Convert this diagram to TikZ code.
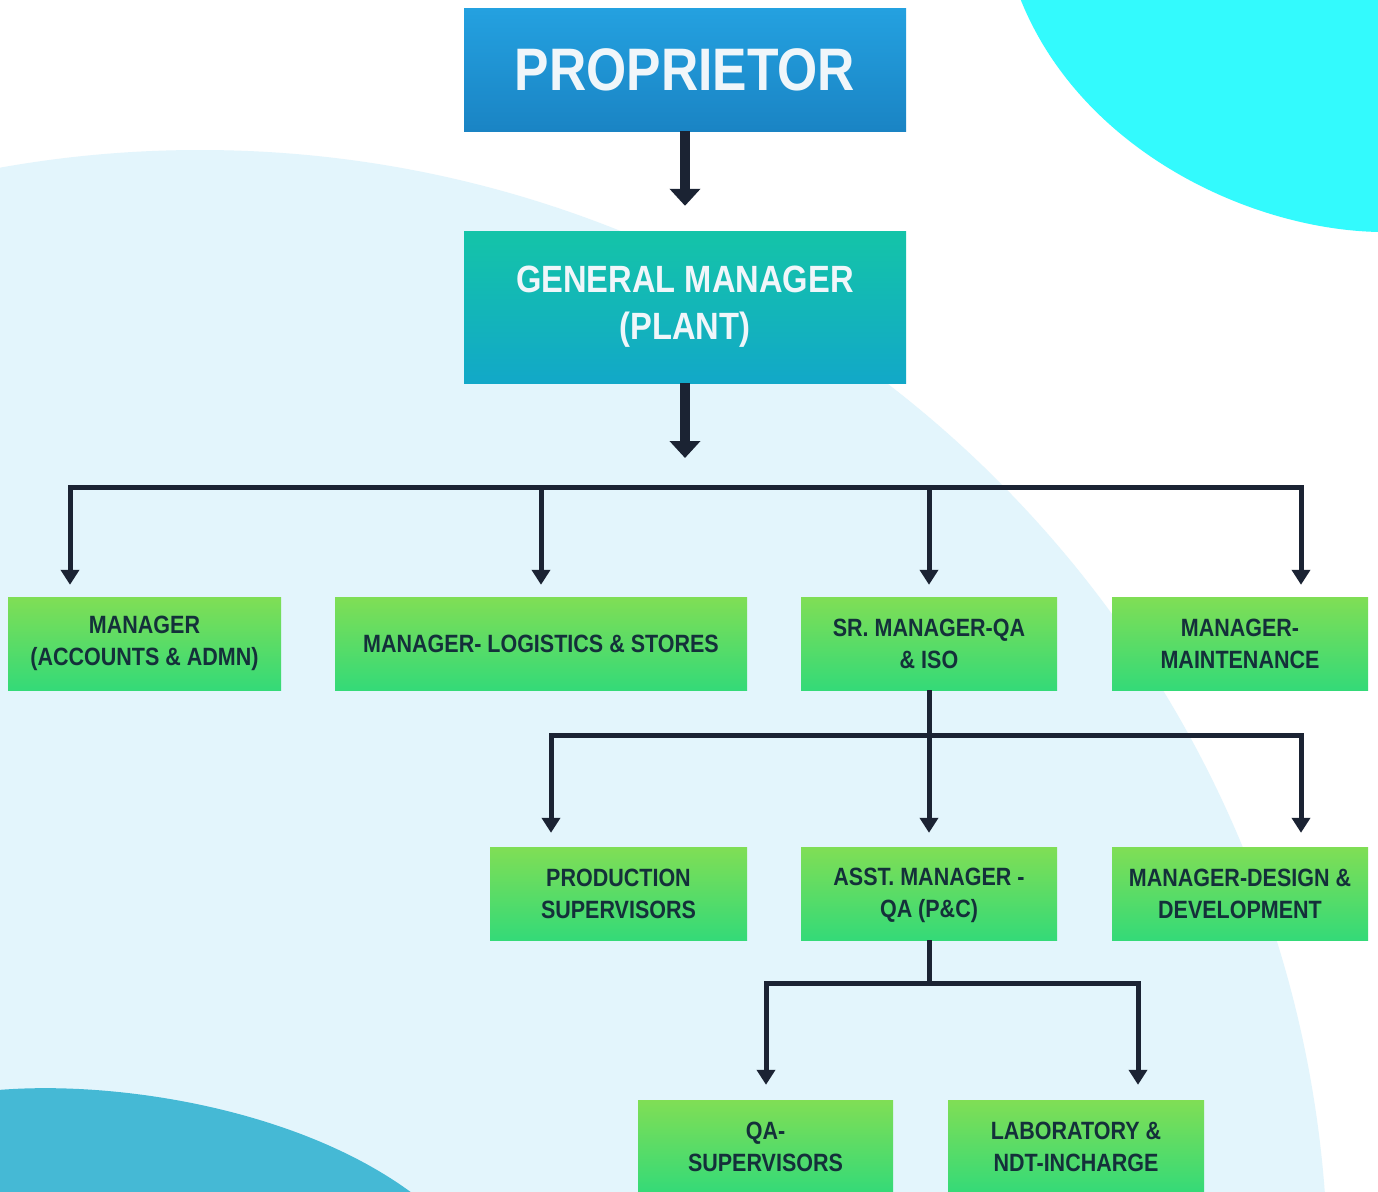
\documentclass[tikz,border=0pt]{standalone}
\usepackage{fontspec}
\setmainfont{Liberation Sans}[FakeStretch=0.86]
\usetikzlibrary{arrows.meta}
\definecolor{bgblue}{RGB}{227,245,252}
\definecolor{cyanc}{RGB}{51,250,253}
\definecolor{deepb}{RGB}{69,185,213}
\definecolor{navy}{RGB}{27,35,51}
\definecolor{txtd}{RGB}{20,48,58}
\definecolor{gtop}{RGB}{128,222,85}
\definecolor{gbot}{RGB}{52,218,120}
\definecolor{ptop}{RGB}{36,161,224}
\definecolor{pbot}{RGB}{26,132,196}
\definecolor{mtop}{RGB}{20,196,168}
\definecolor{mbot}{RGB}{18,168,200}
\definecolor{wtxt}{RGB}{240,246,250}
\begin{document}
\begin{tikzpicture}[x=1pt,y=-1pt,
  gbox/.style={inner sep=0pt, minimum height=93pt, top color=gtop, bottom color=gbot, text=txtd, align=center, font=\bfseries\fontsize{25}{32}\selectfont},
  topbox/.style={inner sep=0pt, minimum width=442pt, text=wtxt, align=center},
  bigarr/.style={draw=navy, line width=10pt, -{Triangle[width=30pt,length=17pt]}},
  link/.style={draw=navy, line width=5pt, line join=miter},
  smallarr/.style={link, -{Triangle[width=18pt,length=15pt]}}]
\useasboundingbox (0,0) rectangle (1378,1191);
\clip (0,0) rectangle (1378,1191);
% background
\fill[white] (0,0) rectangle (1378,1191);
\fill[bgblue] (200,1278) circle[radius=1128pt];
\fill[cyanc] (1020,-2) .. controls (1080,150) and (1250,230) .. (1380,232) -- (1380,-2) -- cycle;
\fill[deepb] (-2,1090) .. controls (120,1080) and (300,1110) .. (412,1193) -- (-2,1193) -- cycle;
% top boxes
\node[topbox, minimum height=123pt, top color=ptop, bottom color=pbot, font=\bfseries\fontsize{60}{72}\selectfont] (prop) at (685,69.5) {PROPRIETOR};
\node[topbox, minimum height=152pt, top color=mtop, bottom color=mbot, font=\bfseries\fontsize{38}{47}\selectfont] (gm) at (685,307) {GENERAL MANAGER\\(PLANT)};
% level 2
\node[gbox, minimum width=273pt] (acc) at (144.5,643.5) {MANAGER\\(ACCOUNTS \& ADMN)};
\node[gbox, minimum width=412pt] (log) at (541,643.5) {MANAGER- LOGISTICS \& STORES};
\node[gbox, minimum width=256pt] (sr) at (929,643.5) {SR. MANAGER-QA\\\& ISO};
\node[gbox, minimum width=256pt] (maint) at (1240,643.5) {MANAGER-\\MAINTENANCE};
% level 3
\node[gbox, minimum width=257pt] (prod) at (618.5,893.5) {PRODUCTION\\SUPERVISORS};
\node[gbox, minimum width=256pt] (asst) at (929,893.5) {\rule{0pt}{22pt}ASST. MANAGER -\\QA (P\&C)};
\node[gbox, minimum width=256pt] (des) at (1240,893.5) {MANAGER-DESIGN \&\\DEVELOPMENT};
% level 4
\node[gbox, minimum width=255pt] (qas) at (765.5,1146.5) {QA-\\SUPERVISORS};
\node[gbox, minimum width=256pt] (lab) at (1076,1146.5) {LABORATORY \&\\NDT-INCHARGE};
% connectors
\coordinate (b1) at (685,487);
\coordinate (b1l) at (70,487);
\coordinate (b1r) at (1301,487);
\draw[bigarr, shorten >=25pt] (prop) -- (gm);
\draw[bigarr, shorten >=29pt] (gm) -- (b1);
\draw[smallarr, shorten >=12pt] (b1r) -- (b1l) -- (b1l |- acc.north);
\draw[smallarr, shorten >=12pt] (b1l) -- (b1r) -- (b1r |- maint.north);
\draw[smallarr, shorten >=12pt] (log.north |- b1) -- (log.north);
\draw[smallarr, shorten >=12pt] (sr.north |- b1) -- (sr.north);
\coordinate (b2l) at (551,735);
\coordinate (b2r) at (1301,735);
\draw[smallarr, shorten >=14pt] (b2r) -- (b2l) -- (b2l |- prod.north);
\draw[smallarr, shorten >=14pt] (b2l) -- (b2r) -- (b2r |- des.north);
\draw[smallarr, shorten >=14pt] (sr) -- (asst);
\coordinate (b3l) at (766,983);
\coordinate (b3r) at (1138,983);
\draw[link] (asst.south) -- (asst.south |- b3l);
\draw[smallarr, shorten >=15pt] (b3r) -- (b3l) -- (b3l |- qas.north);
\draw[smallarr, shorten >=15pt] (b3l) -- (b3r) -- (b3r |- lab.north);
\end{tikzpicture}
\end{document}
